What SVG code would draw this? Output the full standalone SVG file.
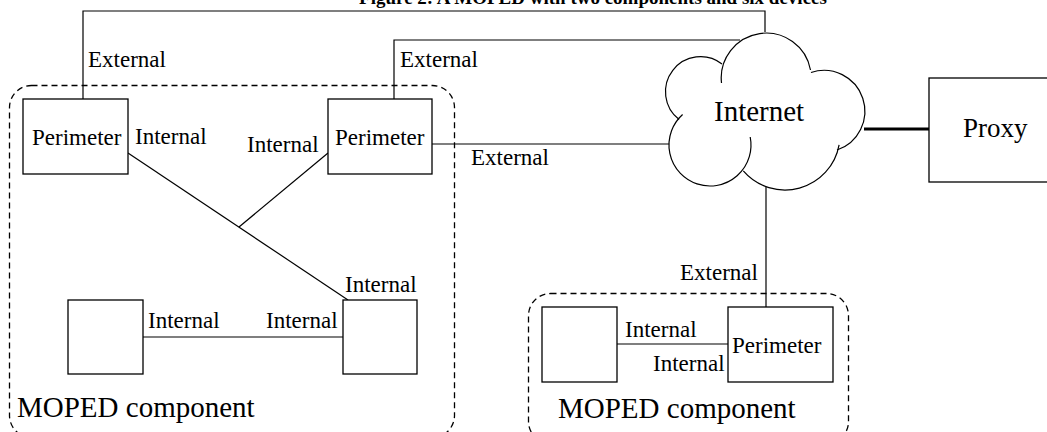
<svg xmlns="http://www.w3.org/2000/svg" width="1047" height="432" viewBox="0 0 1047 432">
<style>
text{font-family:"Liberation Serif","Times New Roman",serif;fill:#000}
.lbl{font-size:23px}
.big{font-size:29px}
.box{fill:#fff;stroke:#000;stroke-width:1.3}
.grp{fill:none;stroke:#000;stroke-width:1.3;stroke-dasharray:6 4}
.ln{fill:none;stroke:#000;stroke-width:1.2}
</style>
<rect width="1047" height="432" fill="#fff"/>
<text x="593" y="4" text-anchor="middle" font-size="19" font-weight="bold">Figure 2: A MOPED with two components and six devices</text>

<g id="component-left">
<rect class="grp" x="9.5" y="85.5" width="445" height="352" rx="22"/>
<text class="big" x="17" y="417">MOPED component</text>
</g>
<g id="component-right">
<rect class="grp" x="528.5" y="293.5" width="320" height="150" rx="22"/>
<text class="big" x="558" y="418">MOPED component</text>
</g>

<g id="connectors">
<polyline class="ln" points="83,99 83,11 765,11 765,32"/>
<polyline class="ln" points="394,99 394,40 740,40"/>
<line class="ln" x1="432" y1="144" x2="669" y2="144"/>
<line class="ln" x1="128" y1="153" x2="348" y2="300"/>
<line class="ln" x1="328" y1="153" x2="239" y2="227"/>
<line class="ln" x1="143" y1="337" x2="343" y2="337"/>
<line class="ln" x1="766" y1="187" x2="766" y2="307"/>
<line class="ln" x1="617" y1="344" x2="728" y2="344"/>
<line stroke="#000" stroke-width="3" x1="864" y1="129" x2="929" y2="129"/>
<text class="lbl" x="88" y="67">External</text>
<text class="lbl" x="400" y="67">External</text>
<text class="lbl" x="471" y="165">External</text>
<text class="lbl" x="135" y="144">Internal</text>
<text class="lbl" x="247" y="152">Internal</text>
<text class="lbl" x="345" y="292">Internal</text>
<text class="lbl" x="148" y="328">Internal</text>
<text class="lbl" x="266" y="328">Internal</text>
<text class="lbl" x="680" y="280">External</text>
<text class="lbl" x="625" y="337">Internal</text>
<text class="lbl" x="653" y="371">Internal</text>
</g>

<g id="perimeter-1">
<rect class="box" x="23" y="99" width="105" height="75"/>
<text class="lbl" x="32" y="145">Perimeter</text>
</g>
<g id="perimeter-2">
<rect class="box" x="328" y="99" width="104" height="75"/>
<text class="lbl" x="335" y="145">Perimeter</text>
</g>
<g id="device-1">
<rect class="box" x="68" y="300" width="75" height="74"/>
</g>
<g id="device-2">
<rect class="box" x="343" y="300" width="74" height="74"/>
</g>
<g id="device-3">
<rect class="box" x="542" y="307" width="75" height="75"/>
</g>
<g id="perimeter-3">
<rect class="box" x="728" y="307" width="105" height="75"/>
<text class="lbl" x="732" y="353">Perimeter</text>
</g>

<g id="internet">
<path class="ln" d="M721.5,83 A45,45 0 0 1 810.5,70"/>
<path class="ln" d="M722,64 A35,35 0 0 0 679.1,119.5"/>
<path class="ln" d="M682.6,114.5 A41,41 0 1 0 750.2,137"/>
<path class="ln" d="M743.3,170.9 A55,55 0 0 0 839.1,144.8"/>
<path class="ln" d="M811,72.5 A40,40 0 0 1 837,150"/>
<text class="big" x="714" y="121">Internet</text>
</g>

<g id="proxy">
<rect class="box" x="929" y="78" width="130" height="104"/>
<text x="963" y="137" font-size="27">Proxy</text>
</g>
</svg>
